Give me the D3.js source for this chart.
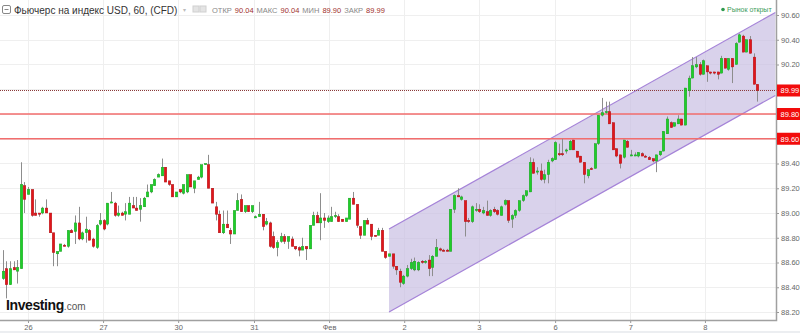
<!DOCTYPE html>
<html>
<head>
<meta charset="utf-8">
<script src="https://cdn.jsdelivr.net/npm/d3@7"></script>
<style>
  body { margin: 0; background: #fff; }
  svg { display: block; font-family: "Liberation Sans", Arial, sans-serif; }
</style>
</head>
<body>
<div id="app"></div>
<script>
const WIDTH = 800;
const HEIGHT = 333;
const PLOT = { LEFT: 0, RIGHT: 776, TOP: 0, BOTTOM: 320 };

// hourly candles, oldest first
const openVals = [
  88.47, 88.55, 88.42, 88.56, 88.53, 88.55, 89.22, 89.15, 89.19, 89.00,
  89.00, 89.00, 89.04, 89.00, 88.84, 88.67, 88.69, 88.74, 88.73, 88.86,
  88.85, 88.92, 88.79, 88.84, 88.86, 88.79, 88.72, 88.91, 88.94, 88.91,
  89.08, 89.08, 88.98, 89.00, 88.99, 88.99, 89.06, 89.04, 89.03, 89.05,
  89.13, 89.17, 89.22, 89.29, 89.30, 89.37, 89.26, 89.23, 89.13, 89.19,
  89.16, 89.17, 89.31, 89.20, 89.27, 89.29, 89.39, 89.39, 89.20, 89.05,
  88.99, 88.84, 88.91, 88.86, 88.83, 89.02, 89.11, 89.01, 89.06, 89.01,
  88.96, 88.97, 88.99, 88.91, 88.92, 88.81, 88.72, 88.77, 88.81, 88.77,
  88.79, 88.73, 88.72, 88.70, 88.73, 88.71, 88.90, 88.98, 88.92, 88.96,
  88.93, 88.93, 88.97, 88.97, 88.95, 88.93, 88.95, 89.12, 89.07, 88.89,
  88.82, 88.94, 88.91, 88.82, 88.82, 88.86, 88.69, 88.65, 88.67, 88.57,
  88.53, 88.43, 88.49, 88.55, 88.54, 88.54, 88.61, 88.60, 88.62, 88.56,
  88.65, 88.71, 88.70, 88.70, 88.69, 89.03, 89.14, 89.11, 89.10, 88.94,
  88.93, 89.02, 89.03, 89.00, 89.01, 88.98, 89.03, 89.02, 88.98, 89.07,
  89.10, 88.95, 88.98, 89.02, 89.10, 89.14, 89.17, 89.41, 89.33, 89.34,
  89.27, 89.31, 89.42, 89.43, 89.48, 89.48, 89.50, 89.51, 89.59, 89.50,
  89.46, 89.41, 89.30, 89.36, 89.36, 89.56, 89.79, 89.81, 89.82, 89.73,
  89.52, 89.47, 89.45, 89.58, 89.47, 89.47, 89.46, 89.48, 89.46, 89.45,
  89.44, 89.42, 89.47, 89.50, 89.64, 89.73, 89.70, 89.72, 89.76, 89.71,
  89.99, 90.09, 90.18, 90.20, 90.12, 90.19, 90.14, 90.14, 90.14, 90.13,
  90.25, 90.16, 90.25, 90.20, 90.38, 90.43, 90.30, 90.40, 90.26, 90.04
];
const highVals = [
  88.70, 88.61, 88.61, 88.61, 88.62, 89.41, 89.25, 89.21, 89.19, 89.11,
  89.00, 89.05, 89.11, 89.00, 88.84, 88.69, 88.75, 88.75, 88.86, 88.87,
  88.98, 89.05, 88.85, 88.97, 88.87, 88.80, 88.91, 89.00, 88.95, 89.08,
  89.17, 89.09, 89.06, 89.01, 89.08, 89.13, 89.13, 89.13, 89.12, 89.13,
  89.23, 89.23, 89.28, 89.32, 89.44, 89.37, 89.26, 89.23, 89.17, 89.19,
  89.23, 89.31, 89.31, 89.26, 89.30, 89.39, 89.40, 89.47, 89.20, 89.09,
  89.02, 89.02, 89.02, 88.88, 89.02, 89.16, 89.15, 89.06, 89.06, 89.06,
  88.98, 89.09, 88.99, 88.96, 88.93, 88.85, 88.78, 88.84, 88.83, 88.81,
  88.81, 88.73, 88.73, 88.80, 88.73, 88.90, 89.01, 89.01, 89.16, 89.00,
  88.98, 89.05, 89.01, 88.99, 88.95, 88.96, 89.12, 89.17, 89.07, 88.89,
  88.94, 88.96, 88.91, 88.82, 88.88, 88.88, 88.69, 88.67, 88.67, 88.57,
  88.55, 88.50, 88.58, 88.63, 88.64, 88.61, 88.62, 88.62, 88.66, 88.66,
  88.79, 88.72, 88.71, 88.71, 89.03, 89.15, 89.20, 89.14, 89.10, 88.96,
  89.06, 89.08, 89.07, 89.05, 89.10, 89.03, 89.05, 89.03, 89.06, 89.11,
  89.10, 88.99, 89.03, 89.10, 89.15, 89.18, 89.45, 89.44, 89.37, 89.40,
  89.35, 89.43, 89.45, 89.58, 89.56, 89.60, 89.52, 89.59, 89.59, 89.50,
  89.46, 89.41, 89.35, 89.37, 89.56, 89.79, 89.93, 89.90, 89.90, 89.73,
  89.52, 89.47, 89.59, 89.59, 89.51, 89.49, 89.49, 89.49, 89.47, 89.46,
  89.44, 89.47, 89.50, 89.66, 89.78, 89.74, 89.73, 89.79, 89.76, 90.01,
  90.11, 90.26, 90.26, 90.22, 90.24, 90.19, 90.14, 90.14, 90.14, 90.27,
  90.25, 90.25, 90.25, 90.38, 90.45, 90.44, 90.40, 90.43, 90.29, 90.04
];
const lowVals = [
  88.46, 88.31, 88.42, 88.54, 88.43, 88.55, 89.00, 89.15, 88.97, 88.98,
  88.97, 88.99, 89.00, 88.84, 88.57, 88.57, 88.69, 88.73, 88.72, 88.84,
  88.75, 88.78, 88.78, 88.76, 88.78, 88.72, 88.71, 88.90, 88.86, 88.90,
  89.08, 88.97, 88.97, 88.98, 88.94, 88.99, 89.04, 89.02, 88.93, 89.05,
  89.13, 89.16, 89.22, 89.29, 89.30, 89.25, 89.22, 89.13, 89.13, 89.16,
  89.15, 89.16, 89.21, 89.16, 89.27, 89.28, 89.39, 89.20, 89.08, 88.94,
  88.84, 88.83, 88.88, 88.75, 88.83, 89.02, 89.01, 89.00, 89.01, 89.00,
  88.96, 88.97, 88.86, 88.90, 88.72, 88.71, 88.65, 88.76, 88.75, 88.71,
  88.73, 88.70, 88.65, 88.70, 88.62, 88.71, 88.90, 88.92, 88.78, 88.88,
  88.92, 88.93, 88.96, 88.93, 88.93, 88.93, 88.95, 89.07, 88.88, 88.79,
  88.82, 88.91, 88.78, 88.81, 88.82, 88.69, 88.63, 88.65, 88.55, 88.50,
  88.40, 88.42, 88.48, 88.54, 88.53, 88.53, 88.59, 88.59, 88.49, 88.49,
  88.65, 88.69, 88.69, 88.69, 88.69, 89.00, 89.13, 89.10, 88.81, 88.92,
  88.92, 89.01, 89.00, 88.99, 88.98, 88.97, 89.00, 88.98, 88.98, 89.06,
  88.92, 88.88, 88.96, 89.01, 89.09, 89.13, 89.17, 89.32, 89.31, 89.26,
  89.24, 89.24, 89.41, 89.43, 89.46, 89.46, 89.48, 89.51, 89.51, 89.45,
  89.41, 89.24, 89.28, 89.35, 89.36, 89.55, 89.78, 89.80, 89.72, 89.51,
  89.45, 89.36, 89.44, 89.53, 89.46, 89.46, 89.45, 89.46, 89.45, 89.43,
  89.41, 89.33, 89.46, 89.50, 89.64, 89.69, 89.70, 89.72, 89.71, 89.71,
  89.94, 90.09, 90.17, 90.11, 90.12, 90.06, 90.12, 90.12, 90.08, 90.13,
  90.17, 90.15, 90.05, 90.20, 90.38, 90.30, 90.30, 90.29, 90.04, 89.90
];
const closeVals = [
  88.53, 88.42, 88.55, 88.54, 88.56, 89.23, 89.11, 89.19, 88.98, 88.98,
  88.99, 89.04, 89.00, 88.84, 88.68, 88.69, 88.75, 88.73, 88.86, 88.84,
  88.92, 88.79, 88.84, 88.87, 88.78, 88.73, 88.90, 88.94, 88.87, 89.08,
  89.09, 88.98, 89.00, 88.98, 89.01, 89.08, 89.04, 89.02, 89.06, 89.12,
  89.17, 89.23, 89.27, 89.31, 89.37, 89.25, 89.23, 89.13, 89.17, 89.17,
  89.23, 89.31, 89.21, 89.26, 89.29, 89.39, 89.40, 89.20, 89.08, 88.99,
  88.84, 88.91, 88.88, 88.83, 89.02, 89.10, 89.01, 89.06, 89.01, 89.06,
  88.97, 88.99, 88.89, 88.93, 88.73, 88.72, 88.76, 88.81, 88.77, 88.81,
  88.73, 88.71, 88.70, 88.73, 88.71, 88.90, 88.98, 88.92, 88.96, 88.94,
  88.96, 88.97, 88.98, 88.93, 88.93, 88.96, 89.12, 89.07, 88.90, 88.82,
  88.94, 88.91, 88.81, 88.81, 88.86, 88.69, 88.64, 88.67, 88.57, 88.54,
  88.44, 88.49, 88.55, 88.60, 88.61, 88.60, 88.60, 88.61, 88.55, 88.65,
  88.72, 88.70, 88.69, 88.69, 89.03, 89.14, 89.13, 89.13, 88.93, 88.93,
  89.05, 89.03, 89.01, 89.02, 88.98, 89.02, 89.01, 88.99, 89.05, 89.10,
  88.94, 88.98, 89.02, 89.10, 89.14, 89.18, 89.41, 89.32, 89.34, 89.27,
  89.31, 89.41, 89.44, 89.57, 89.47, 89.47, 89.51, 89.58, 89.51, 89.45,
  89.41, 89.31, 89.35, 89.35, 89.56, 89.79, 89.81, 89.82, 89.72, 89.51,
  89.46, 89.40, 89.59, 89.53, 89.47, 89.47, 89.49, 89.46, 89.45, 89.43,
  89.42, 89.47, 89.50, 89.66, 89.76, 89.69, 89.73, 89.76, 89.71, 90.01,
  90.09, 90.19, 90.20, 90.12, 90.23, 90.14, 90.13, 90.13, 90.12, 90.25,
  90.17, 90.25, 90.18, 90.37, 90.44, 90.30, 90.40, 90.29, 90.04, 89.99
];

const priceTicks = [88.2, 88.4, 88.6, 88.8, 89.0, 89.2, 89.4, 89.6, 89.8, 90.0, 90.2, 90.4, 90.6];
// candle index where each trading day begins
const dayTickIdx = [7.0, 27.8, 48.6, 69.6, 90.4, 111.2, 131.9, 153.0, 173.8, 194.5];
const dayLabels = ["26", "27", "30", "31", "Фев", "2", "3", "6", "7", "8"];

const levelLines = [89.8, 89.6];
const lastPrice = 89.99;
const channelIdx = [107, 214];
const channelUpper = [88.87, 90.62];
const channelLower = [88.2, 89.95];

const ohlc = ["ОТКР", "90.04", "МАКС", "90.04", "МИН", "89.90", "ЗАКР", "89.99"];

const svg = d3
  .select("#app")
  .append("svg")
  .attr("width", WIDTH)
  .attr("height", HEIGHT);

const x = d3.scaleLinear().domain([0, openVals.length - 1]).range([2.7, 757.3]);
const y = d3.scaleLinear().domain([88.2, 90.6]).range([312, 15]);

const candles = openVals.map((o, i) => ({
  i,
  o,
  h: highVals[i],
  l: lowVals[i],
  c: closeVals[i],
}));

svg
  .append("defs")
  .append("clipPath")
  .attr("id", "plot-clip")
  .append("rect")
  .attr("x", PLOT.LEFT)
  .attr("y", PLOT.TOP)
  .attr("width", PLOT.RIGHT - PLOT.LEFT)
  .attr("height", PLOT.BOTTOM - PLOT.TOP);

// bottom band
svg
  .append("rect")
  .attr("x", 0)
  .attr("y", 331)
  .attr("width", WIDTH)
  .attr("height", HEIGHT - 331)
  .attr("fill", "#eceef1");

// grid
const grid = svg.append("g").attr("stroke", "#efefef").attr("stroke-width", 1);
grid
  .selectAll(".hgrid")
  .data(priceTicks)
  .join("line")
  .attr("x1", PLOT.LEFT)
  .attr("x2", PLOT.RIGHT)
  .attr("y1", (d) => Math.round(y(d)) + 0.5)
  .attr("y2", (d) => Math.round(y(d)) + 0.5);
grid
  .selectAll(".vgrid")
  .data(dayTickIdx)
  .join("line")
  .attr("x1", (d) => Math.round(x(d)) + 0.5)
  .attr("x2", (d) => Math.round(x(d)) + 0.5)
  .attr("y1", PLOT.TOP)
  .attr("y2", PLOT.BOTTOM);

const plot = svg.append("g").attr("clip-path", "url(#plot-clip)");

// regression channel
const chPts = [
  [x(channelIdx[0]), y(channelUpper[0])],
  [x(channelIdx[1]), y(channelUpper[1])],
  [x(channelIdx[1]), y(channelLower[1])],
  [x(channelIdx[0]), y(channelLower[0])],
];
plot
  .append("path")
  .attr("d", "M" + chPts.join("L") + "Z")
  .attr("fill", "#c9bfe3")
  .attr("fill-opacity", 0.7);
plot
  .selectAll(".ch-line")
  .data([
    [chPts[0], chPts[1]],
    [chPts[3], chPts[2]],
  ])
  .join("line")
  .attr("x1", (d) => d[0][0])
  .attr("y1", (d) => d[0][1])
  .attr("x2", (d) => d[1][0])
  .attr("y2", (d) => d[1][1])
  .attr("stroke", "#a583d8")
  .attr("stroke-width", 1.2);

// horizontal levels
plot
  .selectAll(".level")
  .data(levelLines)
  .join("line")
  .attr("x1", PLOT.LEFT)
  .attr("x2", PLOT.RIGHT)
  .attr("y1", (d) => y(d))
  .attr("y2", (d) => y(d))
  .attr("stroke", "#f26d6d")
  .attr("stroke-width", 1.3);
plot
  .append("line")
  .attr("x1", PLOT.LEFT)
  .attr("x2", PLOT.RIGHT)
  .attr("y1", Math.round(y(lastPrice)) + 0.5)
  .attr("y2", Math.round(y(lastPrice)) + 0.5)
  .attr("stroke", "#8a3a3a")
  .attr("stroke-dasharray", "1,1");

// candles
const BODY_W = 2.6;
const candle = plot.selectAll(".candle").data(candles).join("g");
candle
  .append("line")
  .attr("x1", (d) => Math.round(x(d.i)) + 0.5)
  .attr("x2", (d) => Math.round(x(d.i)) + 0.5)
  .attr("y1", (d) => y(d.h))
  .attr("y2", (d) => y(d.l))
  .attr("stroke", "#8d8d8d")
  .attr("stroke-width", 1);
candle
  .append("rect")
  .attr("x", (d) => Math.round(x(d.i)) + 0.5 - BODY_W / 2)
  .attr("y", (d) => y(Math.max(d.o, d.c)))
  .attr("width", BODY_W)
  .attr("height", (d) => Math.max(1.2, Math.abs(y(d.o) - y(d.c))))
  .attr("fill", (d) => (d.c >= d.o ? "#1fce2a" : "#e0161b"))
  .attr("stroke", (d) => (d.c >= d.o ? "#189a20" : "#a81014"))
  .attr("stroke-width", 0.4);

// axes
const yAxis = svg
  .append("g")
  .attr("transform", `translate(${PLOT.RIGHT}, 0)`)
  .call(
    d3.axisRight(y).tickValues(priceTicks).tickSize(3).tickPadding(2).tickFormat(d3.format(".2f"))
  );
yAxis.select(".domain").remove();
yAxis.selectAll(".tick line").attr("stroke", "#999");
yAxis
  .selectAll(".tick text")
  .attr("fill", "#666")
  .attr("font-size", 7.5)
  .attr("font-family", "Liberation Sans, Arial, sans-serif");

const xAxis = svg
  .append("g")
  .attr("transform", `translate(0, ${PLOT.BOTTOM})`)
  .call(
    d3.axisBottom(x).tickValues(dayTickIdx).tickSize(3).tickPadding(2).tickFormat((d, i) => dayLabels[i])
  );
xAxis.select(".domain").remove();
xAxis.selectAll(".tick line").attr("stroke", "#999");
xAxis
  .selectAll(".tick text")
  .attr("fill", "#666")
  .attr("font-size", 7.5)
  .attr("font-family", "Liberation Sans, Arial, sans-serif");

svg
  .append("path")
  .attr("d", `M${PLOT.LEFT},${PLOT.BOTTOM + 0.5}H${PLOT.RIGHT + 0.5}V${PLOT.TOP}`)
  .attr("fill", "none")
  .attr("stroke", "#a0a0a0")
  .attr("stroke-width", 1.5);

// price tags on the right
const tags = svg
  .selectAll(".tag")
  .data([lastPrice, ...levelLines])
  .join("g")
  .attr("transform", (d) => `translate(${PLOT.RIGHT + 1}, ${y(d)})`);
tags
  .append("rect")
  .attr("x", 0)
  .attr("y", -6)
  .attr("width", WIDTH - PLOT.RIGHT - 1)
  .attr("height", 12)
  .attr("fill", "#f20c0c");
tags
  .append("text")
  .attr("x", 3.5)
  .attr("y", 3)
  .attr("fill", "#fff")
  .attr("font-size", 7.5)
  .text((d) => d.toFixed(2));

// title row
const title = svg.append("g").attr("transform", "translate(0, 14)");
title
  .append("rect")
  .attr("x", 2.5)
  .attr("y", -8.5)
  .attr("width", 8)
  .attr("height", 8)
  .attr("rx", 1.5)
  .attr("fill", "none")
  .attr("stroke", "#888");
title
  .append("line")
  .attr("x1", 4.5)
  .attr("x2", 8.5)
  .attr("y1", -4.5)
  .attr("y2", -4.5)
  .attr("stroke", "#888");
title
  .append("text")
  .attr("x", 14)
  .attr("y", 0)
  .attr("fill", "#333")
  .attr("font-size", 10)
  .text("Фьючерс на индекс USD, 60, (CFD)");
title
  .append("text")
  .attr("x", 183)
  .attr("y", -2)
  .attr("fill", "#bbb")
  .attr("font-size", 6)
  .text("▾");
title
  .selectAll(".icon")
  .data([0, 1])
  .join("rect")
  .attr("x", (d) => 193 + d * 7)
  .attr("y", -8)
  .attr("width", 6)
  .attr("height", 6)
  .attr("fill", "#e4e4e4")
  .attr("stroke", "#d0d0d0");
const info = title.append("text").attr("x", 212).attr("y", -1).attr("font-size", 7.5);
info
  .selectAll("tspan")
  .data(ohlc)
  .join("tspan")
  .attr("dx", (d, i) => (i === 0 ? 0 : 3))
  .attr("fill", (d, i) => (i % 2 ? "#a0302d" : "#888"))
  .text((d) => d);

const status = svg.append("g").attr("transform", "translate(723, 12)");
status.append("circle").attr("cx", 0).attr("cy", -2.5).attr("r", 1.8).attr("fill", "#2e9a4f");
status
  .append("text")
  .attr("x", 4)
  .attr("y", 0)
  .attr("fill", "#3c9c5c")
  .attr("font-size", 7)
  .text("Рынок открыт");

// logo
const logo = svg.append("text").attr("x", 6).attr("y", 310);
logo
  .append("tspan")
  .attr("font-size", 14)
  .attr("font-weight", "bold")
  .attr("fill", "#111")
  .attr("letter-spacing", -0.4)
  .text("Investing");
logo.append("tspan").attr("font-size", 10).attr("fill", "#555").text(".com");
</script>
</body>
</html>
